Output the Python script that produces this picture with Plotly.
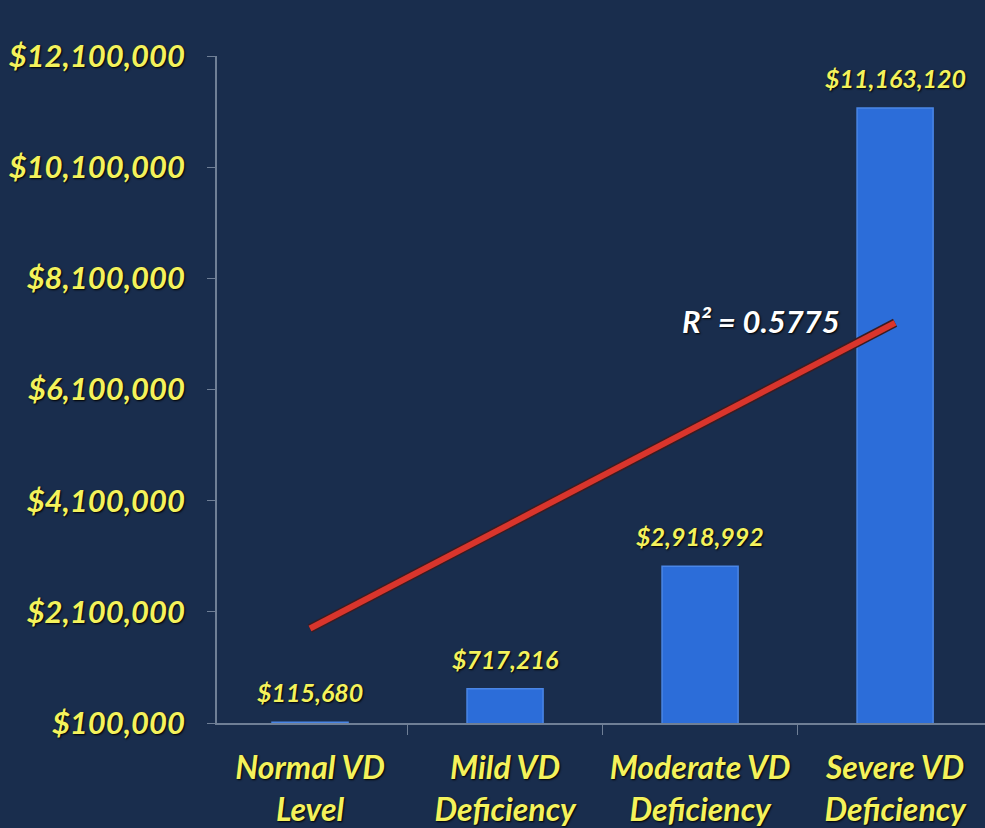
import plotly.graph_objects as go

categories = ["Normal VD<br>Level", "Mild VD<br>Deficiency", "Moderate VD<br>Deficiency", "Severe VD<br>Deficiency"]
costs = [115680, 717216, 2918992, 11163120]
cost_labels = ["$115,680", "$717,216", "$2,918,992", "$11,163,120"]
trend_x = [categories[0], categories[3]]
trend_y = [1800000, 7300000]
r2_text = "R² = 0.5775"
y_tickvals = [100000, 2100000, 4100000, 6100000, 8100000, 10100000, 12100000]
y_ticktext = ["$100,000", "$2,100,000", "$4,100,000", "$6,100,000", "$8,100,000", "$10,100,000", "$12,100,000"]

BG = "#192d4d"
YELLOW = "#f4f25c"
FONT = "Lato"
SHADOW = "1px 1px 2px #000000"

fig = go.Figure()
fig.add_trace(go.Bar(
    x=categories, y=costs, base=0, width=0.39,
    marker=dict(color="#2c6dd9", line=dict(color="#4a86e6", width=1.5)),
    hoverinfo="skip", showlegend=False,
))
# shadow of the trend line
fig.add_trace(go.Scatter(
    x=trend_x, y=trend_y, mode="lines",
    line=dict(color="#3a1c22", width=9), hoverinfo="skip", showlegend=False,
))
fig.add_trace(go.Scatter(
    x=trend_x, y=trend_y, mode="lines",
    line=dict(color="#d9352c", width=6), hoverinfo="skip", showlegend=False,
))

for c, v, t in zip(categories, costs, cost_labels):
    fig.add_annotation(
        x=c, y=v, text=t, showarrow=False, yshift=30,
        font=dict(family=FONT, size=25, color=YELLOW, style="italic", weight="bold", shadow=SHADOW),
    )

fig.add_annotation(
    x=trend_x[1], y=trend_y[1], text=r2_text, showarrow=False,
    xanchor="right", xshift=-53, yshift=2,
    font=dict(family=FONT, size=31, color="#ffffff", style="italic", weight="bold", shadow=SHADOW),
)

fig.update_layout(
    width=985, height=828,
    paper_bgcolor=BG, plot_bgcolor=BG,
    margin=dict(l=217, r=0, t=56, b=105),
    bargap=0.6,
    xaxis=dict(
        type="category", range=[-0.477, 3.461],
        showline=True, linecolor="#6f7f96", linewidth=1.5,
        ticks="outside", tickson="boundaries", ticklen=10, tickcolor="#6f7f96",
        showgrid=False, zeroline=False, ticklabelstandoff=16,
        tickfont=dict(family=FONT, size=32, color=YELLOW, style="italic", weight="bold", shadow=SHADOW),
    ),
    yaxis=dict(
        range=[100000, 12100000],
        tickvals=y_tickvals, ticktext=y_ticktext,
        showline=True, linecolor="#6f7f96", linewidth=1.5,
        ticks="outside", ticklen=8, tickcolor="#6f7f96",
        showgrid=False, zeroline=False, ticklabelstandoff=16,
        tickfont=dict(family=FONT, size=31, color=YELLOW, style="italic", weight="bold", shadow=SHADOW),
    ),
)

fig.write_html(
    "out.html",
    config={"displayModeBar": False},
    post_script="document.body.style.margin='0';document.body.style.background='" + BG + "';",
)
